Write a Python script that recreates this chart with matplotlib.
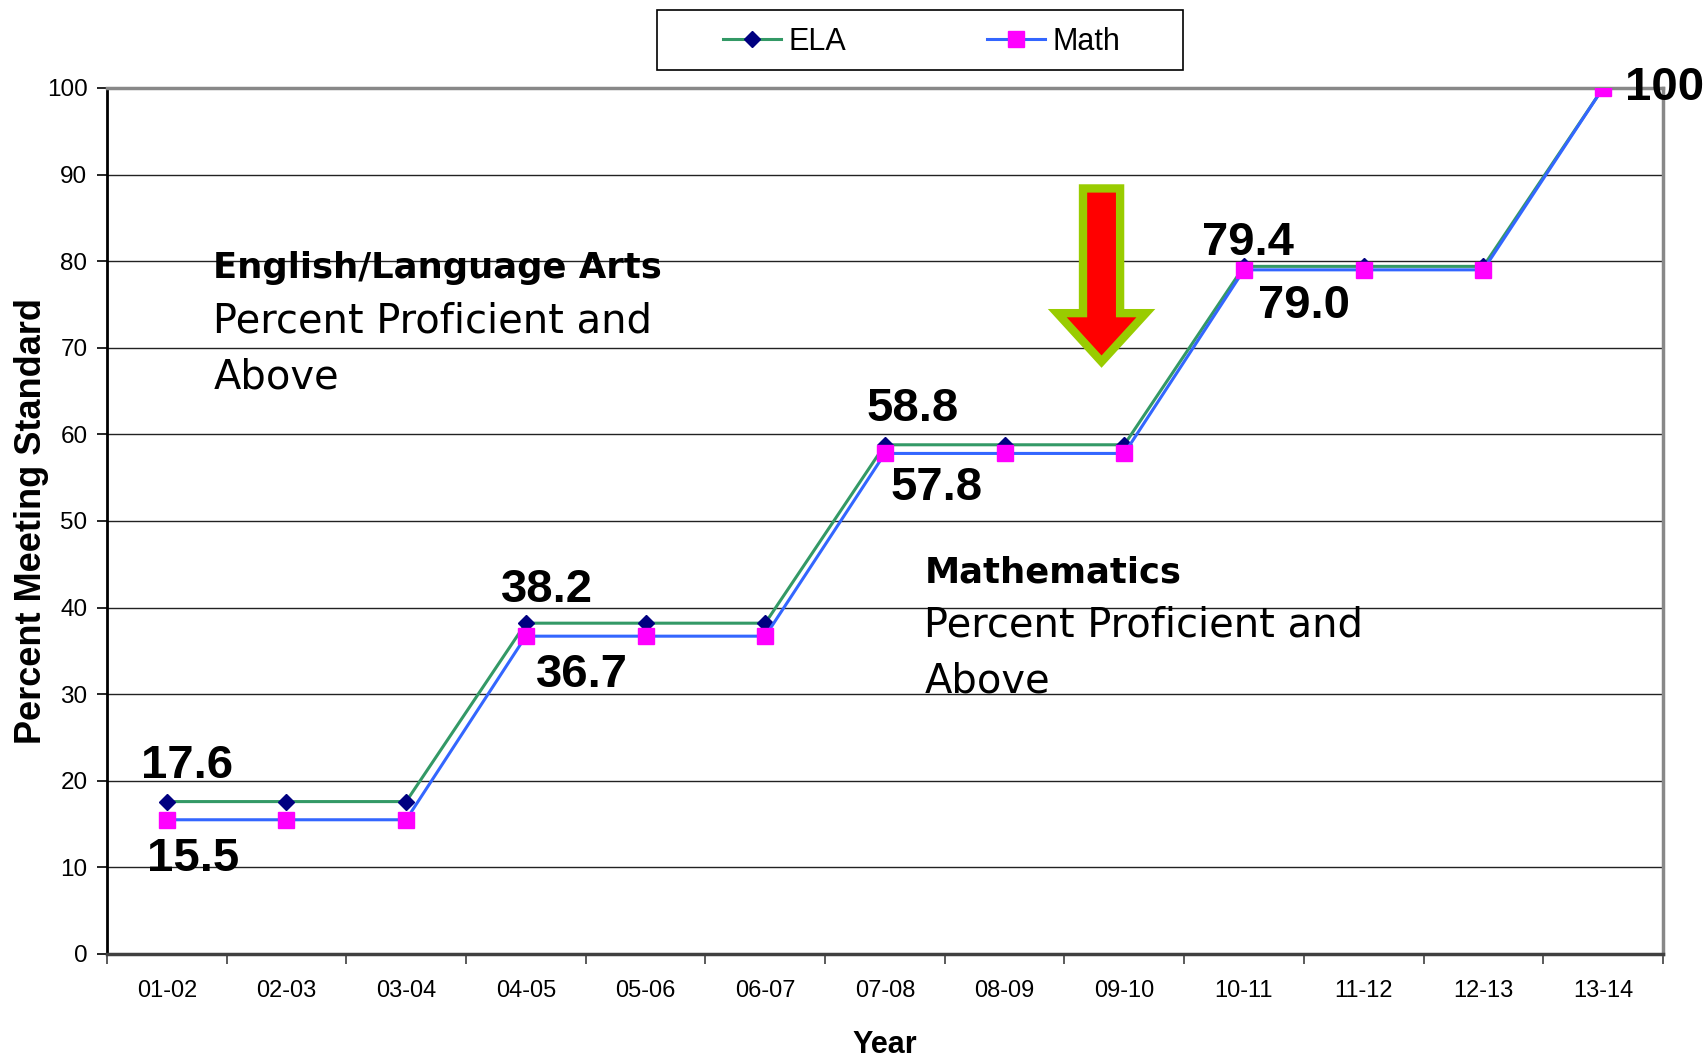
import matplotlib
matplotlib.use('Agg')
import matplotlib.pyplot as plt
from matplotlib.patches import FancyArrow, Rectangle

years = ['01-02', '02-03', '03-04', '04-05', '05-06', '06-07', '07-08',
         '08-09', '09-10', '10-11', '11-12', '12-13', '13-14']
ela = [17.6, 17.6, 17.6, 38.2, 38.2, 38.2, 58.8, 58.8, 58.8, 79.4, 79.4, 79.4, 100]
math = [15.5, 15.5, 15.5, 36.7, 36.7, 36.7, 57.8, 57.8, 57.8, 79.0, 79.0, 79.0, 100]
yticks = list(range(0, 101, 10))

# value labels: (index, text, offset in pixels)
ela_labels = [(0, '17.6', (20, 36)), (3, '38.2', (21, 33)), (6, '58.8', (28, 36)),
              (9, '79.4', (4, 23))]
math_labels = [(0, '15.5', (26, -39)), (3, '36.7', (56, -39)), (6, '57.8', (52, -35)),
               (9, '79.0', (60, -36))]

plt.rcParams['font.family'] = ['Liberation Sans', 'DejaVu Sans']

fig = plt.figure(figsize=(17.08, 10.6), dpi=100)
ax = fig.add_axes([0.0626, 0.1, 0.911, 0.817])

x = list(range(len(years)))
ax.plot(x, ela, color='#339966', lw=2.2, marker='D', ms=7.8,
        mfc='#000080', mec='#000080', label='ELA', zorder=3)
ax.plot(x, math, color='#3366FF', lw=2.2, marker='s', ms=11,
        mfc='#FF00FF', mec='#FF00FF', label='Math', zorder=4)

ax.set_xlim(-0.5, len(years) - 0.5)
ax.set_ylim(0, 100)
ax.set_yticks(yticks)
ax.tick_params(axis='y', labelsize=17.5, length=7, width=1.2, pad=7)
ax.set_xticks(x)
ax.set_xticklabels(years)
ax.set_xticks([i - 0.5 for i in range(len(years) + 1)], minor=True)
ax.tick_params(axis='x', which='major', length=0, labelsize=17, pad=19)
ax.tick_params(axis='x', which='minor', length=7, width=1.2, color='#404040')

for v in yticks[1:-1]:
    ax.axhline(v, color='#222222', lw=1.0, zorder=1)
ax.spines['top'].set_color('#888888')
ax.spines['top'].set_linewidth(2.5)
ax.spines['right'].set_color('#888888')
ax.spines['right'].set_linewidth(2.5)
ax.spines['left'].set_linewidth(2)
ax.spines['bottom'].set_color('#404040')
ax.spines['bottom'].set_linewidth(2.5)

ax.set_ylabel('Percent Meeting Standard', fontsize=26, fontweight='bold')
ax.yaxis.set_label_coords(-0.037, 0.5)
ax.set_xlabel('Year', fontsize=22, fontweight='bold')
ax.xaxis.set_label_coords(0.5, -0.088)

for i, t, off in ela_labels:
    ax.annotate(t, (i, ela[i]), xytext=off, textcoords='offset pixels',
                ha='center', va='center', fontsize=34, fontweight='bold', zorder=5)
for i, t, off in math_labels:
    ax.annotate(t, (i, math[i]), xytext=off, textcoords='offset pixels',
                ha='center', va='center', fontsize=34, fontweight='bold', zorder=5)
ax.annotate('100', (12, math[12]), xytext=(22, 0), textcoords='offset pixels',
            ha='left', va='center', fontsize=34, fontweight='bold',
            annotation_clip=False, zorder=5)

# block captions
comic = ['DejaVu Sans']
ax.text(0.39, 79.2, 'English/Language Arts', fontsize=25.5, fontweight='bold',
        family=comic, va='center', ha='left')
ax.text(0.39, 73.0, 'Percent Proficient and', fontsize=28.8, family=comic,
        va='center', ha='left')
ax.text(0.39, 66.6, 'Above', fontsize=28.8, family=comic, va='center', ha='left')
ax.text(6.33, 44.1, 'Mathematics', fontsize=25.5, fontweight='bold',
        family=comic, va='center', ha='left')
ax.text(6.33, 37.9, 'Percent Proficient and', fontsize=28.8, family=comic,
        va='center', ha='left')
ax.text(6.33, 31.5, 'Above', fontsize=28.8, family=comic, va='center', ha='left')

# down arrow
arr = FancyArrow(7.81, 88.4, 0, -20.0, width=0.31, head_width=0.74,
                 head_length=5.6, length_includes_head=True,
                 facecolor='#FF0000', edgecolor='#99CC00', linewidth=6, zorder=6)
ax.add_patch(arr)

# legend
fig.patches.append(Rectangle((657 / 1708, 1 - 70 / 1060), 526 / 1708, 60 / 1060,
                             transform=fig.transFigure, fill=False,
                             edgecolor='black', lw=1.2))
fig.legend(loc='center', bbox_to_anchor=(922 / 1708, 1 - 42 / 1060), ncol=2,
           frameon=False, fontsize=22, handlelength=1.9, handletextpad=0.25,
           columnspacing=4.6)

fig.savefig('out.png', dpi=100)
